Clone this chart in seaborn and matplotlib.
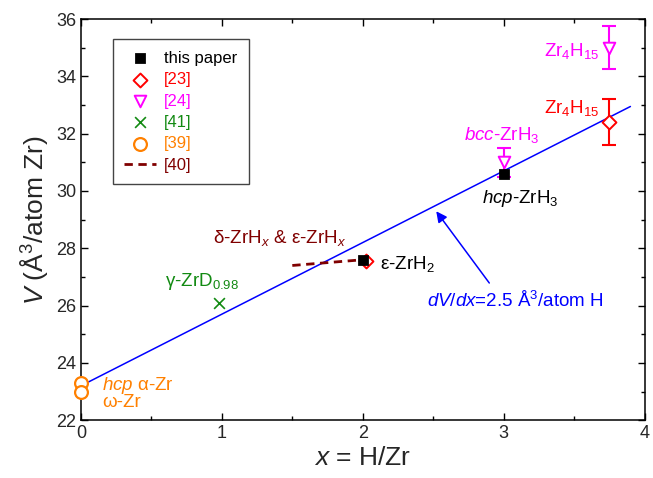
import numpy as np
import pandas as pd
import matplotlib.pyplot as plt
import seaborn as sns

sns.set_style("ticks")
plt.rcParams["font.family"] = ["Liberation Sans", "DejaVu Sans"]
plt.rcParams["mathtext.fontset"] = "custom"
plt.rcParams["mathtext.rm"] = "Liberation Sans"
plt.rcParams["mathtext.it"] = "Liberation Sans:italic"
plt.rcParams["mathtext.bf"] = "Liberation Sans:bold"

# data
paper_x = [2.0, 3.0]
paper_v = [27.6, 30.6]
ref23_x = [2.02, 3.75]
ref23_v = [27.55, 32.4]
ref23_err = [0.0, 0.8]
ref24_x = [3.0, 3.75]
ref24_v = [31.0, 35.0]
ref24_err = [0.5, 0.75]
ref41_x = [0.98]
ref41_v = [26.1]
ref39_x = [0.0, 0.0]
ref39_v = [23.3, 22.97]
ref40_x = [1.5, 2.0]
ref40_v = [27.4, 27.6]
fit_x = [0.04, 3.9]
fit_v = [23.3, 32.95]

RED, MAG, GRN, ORG, DRED, BLUE = "#FF0000", "#FF00FF", "#128A12", "#FF8000", "#800000", "#0000FF"

fig = plt.figure(figsize=(6.53, 4.78), dpi=100)
ax = fig.add_axes([0.124, 0.121, 0.863, 0.839])

sns.lineplot(x=fit_x, y=fit_v, color=BLUE, lw=1.1, ax=ax, zorder=1)
sns.lineplot(x=ref40_x, y=ref40_v, color=DRED, lw=2, ls=(0, (3, 2)), ax=ax, zorder=2, label="[40]")

ax.errorbar(ref23_x, ref23_v, yerr=ref23_err, fmt="none", ecolor=RED, capsize=5, elinewidth=1.5, capthick=1.5, zorder=2)
ax.errorbar(ref24_x, ref24_v, yerr=ref24_err, fmt="none", ecolor=MAG, capsize=5, elinewidth=1.5, capthick=1.5, zorder=2)

sns.scatterplot(x=ref23_x, y=ref23_v, marker="D", s=50, facecolor="white", edgecolor=RED, linewidth=1.4, ax=ax, zorder=3, label="[23]")
sns.scatterplot(x=ref24_x, y=ref24_v, marker="v", s=70, facecolor="white", edgecolor=MAG, linewidth=1.4, ax=ax, zorder=3, label="[24]")
sns.scatterplot(x=ref41_x, y=ref41_v, marker="x", s=60, color=GRN, linewidth=1.2, ax=ax, zorder=3, label="[41]")
sns.scatterplot(x=ref39_x, y=ref39_v, marker="o", s=85, facecolor="white", edgecolor=ORG, linewidth=1.6, ax=ax, zorder=4, clip_on=False, label="[39]")
sns.scatterplot(x=paper_x, y=paper_v, marker="s", s=50, color="black", edgecolor="black", ax=ax, zorder=5, label="this paper")

ax.set_xlim(0, 4)
ax.set_ylim(22, 36)
ax.set_xticks([0, 1, 2, 3, 4])
ax.set_yticks(np.arange(22, 37, 2))
ax.set_xticks(np.arange(0, 4.01, 0.5), minor=True)
ax.set_yticks(np.arange(22, 36.01, 1), minor=True)
ax.tick_params(which="both", direction="in", top=True, right=True, labelsize=13, color="black")
ax.tick_params(which="major", length=5, width=1)
ax.tick_params(which="minor", length=3, width=1)
for sp in ax.spines.values():
    sp.set_color("black")
    sp.set_linewidth(1.1)
ax.set_xlabel("$x$ = H/Zr", fontsize=19, labelpad=3)
ax.set_ylabel("$V$ (Å$^3$/atom Zr)", fontsize=19, labelpad=4)

# legend
h, l = ax.get_legend_handles_labels()
order = ["this paper", "[23]", "[24]", "[41]", "[39]", "[40]"]
cols = ["black", RED, MAG, GRN, ORG, DRED]
hs = [h[l.index(o)] for o in order]
leg = ax.legend(hs, order, loc="upper left", bbox_to_anchor=(0.056, 0.95), borderaxespad=0,
                fontsize=12, frameon=True, fancybox=False, edgecolor="#444444", framealpha=1,
                handlelength=1.9, handletextpad=0.5, labelspacing=0.38, borderpad=0.7)
leg.get_frame().set_linewidth(1.0)
for t, c in zip(leg.get_texts(), cols):
    t.set_color(c)

# annotations
fs = 13.5
ax.text(3.68, 34.9, "Zr$_4$H$_{15}$", color=MAG, fontsize=fs, ha="right", va="center")
ax.text(3.68, 32.9, "Zr$_4$H$_{15}$", color=RED, fontsize=fs, ha="right", va="center")
ax.text(2.99, 31.95, "$\\mathit{bcc}$-ZrH$_3$", color=MAG, fontsize=fs, ha="center", va="center")
ax.text(3.12, 29.75, "$\\mathit{hcp}$-ZrH$_3$", color="black", fontsize=fs, ha="center", va="center")
ax.text(2.12, 27.45, "ε-ZrH$_2$", color="black", fontsize=fs, ha="left", va="center")
ax.text(1.41, 28.35, "δ-ZrH$_\\mathit{x}$ & ε-ZrH$_\\mathit{x}$", color=DRED, fontsize=fs, ha="center", va="center")
ax.text(0.86, 26.85, "γ-ZrD$_{0.98}$", color=GRN, fontsize=fs, ha="center", va="center")
ax.text(0.15, 23.22, "$\\mathit{hcp}$ α-Zr", color=ORG, fontsize=fs, ha="left", va="center")
ax.text(0.15, 22.6, "ω-Zr", color=ORG, fontsize=fs, ha="left", va="center")
ax.annotate("", xy=(2.51, 29.37), xytext=(2.91, 26.71),
            arrowprops=dict(arrowstyle="-|>", color=BLUE, lw=1.1, mutation_scale=16))
ax.text(3.08, 26.15, "$\\mathit{dV/dx}$=2.5 Å$^3$/atom H", color=BLUE, fontsize=fs, ha="center", va="center")

fig.savefig("out.png", dpi=100)
